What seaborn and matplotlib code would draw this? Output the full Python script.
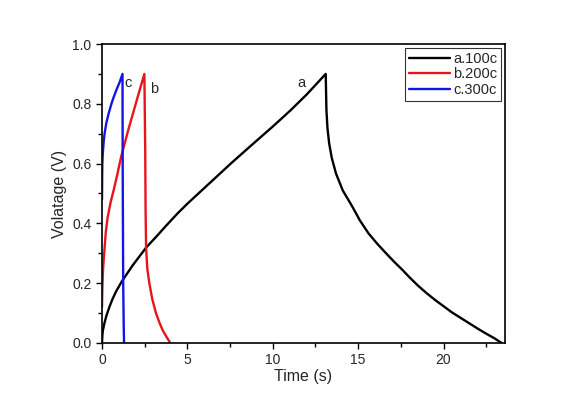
import pandas as pd
import matplotlib
matplotlib.use("Agg")
import matplotlib.pyplot as plt
import seaborn as sns
from matplotlib.ticker import MultipleLocator, FormatStrFormatter

# values (time in s, voltage in V)
t_a = [0, 0.02, 0.05, 0.14, 0.25, 0.43, 0.6, 0.82, 1.17, 1.8, 2.58, 3.2, 3.75,
       4.4, 5.0, 6.27, 7.5, 8.03, 9.0, 10.0, 11.0, 12.0, 13.1,
       13.12, 13.14, 13.2, 13.3, 13.45, 13.7, 14.1, 14.66, 15.1, 15.6, 16.1,
       16.6, 17.1, 17.6, 18.0, 18.5, 19.0, 19.5, 20.0, 20.5, 21.0, 21.5, 22.0,
       22.5, 23.0, 23.4]
v_a = [0, 0.025, 0.042, 0.066, 0.09, 0.12, 0.145, 0.172, 0.207, 0.26, 0.319,
       0.357, 0.392, 0.432, 0.466, 0.533, 0.598, 0.625, 0.674, 0.724, 0.776,
       0.832, 0.90,
       0.84, 0.78, 0.72, 0.668, 0.62, 0.567, 0.51, 0.456, 0.41, 0.367, 0.333,
       0.302, 0.272, 0.244, 0.22, 0.192, 0.167, 0.144, 0.123, 0.102, 0.084, 0.066,
       0.048, 0.031, 0.015, 0.0]

t_b = [0, 0.015, 0.03, 0.06, 0.1, 0.14, 0.22, 0.33, 0.5, 0.72, 0.9, 1.1, 1.22,
       1.55, 1.9, 2.2, 2.48, 2.5, 2.53, 2.55, 2.58, 2.65, 2.77, 2.95, 3.16, 3.35,
       3.55, 3.8, 4.0]
v_b = [0.12, 0.17, 0.2, 0.245, 0.28, 0.31, 0.37, 0.42, 0.47, 0.52, 0.565, 0.618,
       0.645, 0.715, 0.785, 0.845, 0.90, 0.8, 0.645, 0.45, 0.32, 0.25, 0.2,
       0.145, 0.10, 0.07, 0.043, 0.018, 0.0]

t_c = [0, 0.01, 0.02, 0.04, 0.06, 0.1, 0.15, 0.25, 0.4, 0.55, 0.7, 0.84, 1.05,
       1.2, 1.21, 1.24, 1.27, 1.29]
v_c = [0.48, 0.56, 0.6, 0.628, 0.645, 0.675, 0.70, 0.735, 0.77, 0.80, 0.825,
       0.846, 0.875, 0.90, 0.6, 0.2, 0.06, 0.0]

names = ["a.100c", "b.200c", "c.300c"]
colors = ["black", "#e8141c", "#1414e6"]

df = pd.concat([
    pd.DataFrame({"t": t_a, "v": v_a, "s": names[0]}),
    pd.DataFrame({"t": t_b, "v": v_b, "s": names[1]}),
    pd.DataFrame({"t": t_c, "v": v_c, "s": names[2]}),
])

sns.set_style("ticks")
plt.rcParams["font.family"] = ["Liberation Sans", "DejaVu Sans"]

fig = plt.figure(figsize=(5.88, 4.09), dpi=100)
ax = fig.add_axes([0.1735, 0.1614, 0.6854, 0.731])

sns.lineplot(data=df, x="t", y="v", hue="s", palette=colors, sort=False,
             estimator=None, linewidth=1.7, ax=ax)

ax.set_xlim(0, 23.6)
ax.set_ylim(0, 1.0)
ax.xaxis.set_major_locator(MultipleLocator(5))
ax.xaxis.set_minor_locator(MultipleLocator(2.5))
ax.yaxis.set_major_locator(MultipleLocator(0.2))
ax.yaxis.set_minor_locator(MultipleLocator(0.1))
ax.yaxis.set_major_formatter(FormatStrFormatter("%.1f"))
ax.tick_params(which="both", direction="out", top=False, right=False,
               labelsize=10, width=1.0, color="black")
ax.tick_params(which="major", length=4)
ax.tick_params(which="minor", length=3)
for sp in ax.spines.values():
    sp.set_visible(True)
    sp.set_color("black")
    sp.set_linewidth(1.2)

ax.set_xlabel("Time (s)", fontsize=11.5, labelpad=1)
ax.set_ylabel("Volatage (V)", fontsize=11.5, labelpad=4)

ax.text(1.5, 0.868, "c", fontsize=10.5, va="center", ha="center")
ax.text(3.06, 0.85, "b", fontsize=10.5, va="center", ha="center")
ax.text(11.7, 0.87, "a", fontsize=10.5, va="center", ha="center")

leg = ax.legend(loc="upper right", fontsize=10.5, frameon=True, fancybox=False,
                edgecolor="black", borderaxespad=0.3, handlelength=2.8,
                handletextpad=0.2, labelspacing=0.1, borderpad=0.25)
leg.get_frame().set_linewidth(0.8)
leg.set_title(None)

fig.savefig("out.png", dpi=100, facecolor="white")
